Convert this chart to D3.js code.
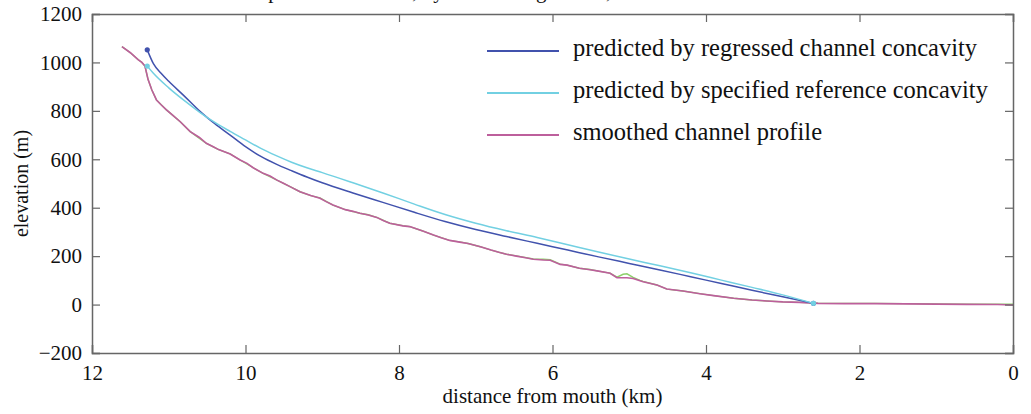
<!DOCTYPE html>
<html>
<head>
<meta charset="utf-8">
<script src="https://cdn.jsdelivr.net/npm/d3@7"></script>
<style>
  html, body { margin: 0; padding: 0; background: #fff; }
  svg { display: block; font-family: "Liberation Serif", "Times New Roman", serif; }
</style>
</head>
<body>
<svg id="chart" width="1031" height="414"></svg>
<script>
// Distance from mouth (km) and elevation (m) along the smoothed channel
const smoothDist = [11.61, 11.50, 11.40, 11.35, 11.31, 11.27, 11.22, 11.16, 11.10, 11.03, 10.95, 10.85, 10.72, 10.60, 10.51, 10.42, 10.35, 10.20, 10.07, 9.98, 9.90, 9.77, 9.68, 9.59, 9.50, 9.42, 9.29, 9.15, 9.03, 8.95, 8.86, 8.70, 8.60, 8.51, 8.40, 8.29, 8.20, 8.12, 7.95, 7.86, 7.70, 7.55, 7.45, 7.34, 7.21, 7.10, 6.94, 6.80, 6.70, 6.60, 6.47, 6.35, 6.25, 6.12, 6.03, 5.90, 5.81, 5.65, 5.51, 5.40, 5.25, 5.16, 5.03, 4.95, 4.82, 4.64, 4.51, 4.30, 4.08, 3.90, 3.64, 3.40, 3.21, 3.00, 2.78, 2.54, 2.20, 1.80, 1.40, 1.00, 0.60, 0.20, 0.00];
const smoothElev = [1065, 1040, 1012, 1000, 985, 930, 886, 845, 825, 804, 782, 755, 714, 690, 666, 652, 640, 622, 597, 583, 565, 542, 531, 514, 500, 487, 466, 450, 439, 425, 411, 392, 385, 377, 370, 360, 346, 336, 325, 322, 305, 287, 276, 265, 258, 252, 239, 225, 216, 208, 200, 193, 187, 184, 183, 166, 163, 150, 144, 138, 129, 111, 111, 108, 94, 81, 64, 56, 45, 37, 26, 19, 15, 11, 9, 5, 4, 4, 3, 2, 1, 0, -2];

// Unsmoothed channel profile
const rawDist = [11.61, 11.50, 11.40, 11.35, 11.31, 11.27, 11.22, 11.16, 11.03, 10.85, 10.72, 10.51, 10.35, 10.20, 10.07, 9.90, 9.77, 9.59, 9.42, 9.29, 9.15, 9.03, 8.86, 8.70, 8.51, 8.40, 8.29, 8.12, 7.95, 7.86, 7.70, 7.55, 7.34, 7.21, 7.10, 6.94, 6.80, 6.60, 6.47, 6.25, 6.12, 6.03, 5.90, 5.81, 5.65, 5.51, 5.40, 5.25, 5.16, 5.08, 5.03, 4.95, 4.86, 4.82, 4.64, 4.51, 4.30, 4.08, 3.90, 3.64, 3.40, 3.21, 3.00, 2.78, 2.54, 2.20, 1.80, 1.40, 1.00, 0.60, 0.20, 0.00];
const rawElev = [1065, 1040, 1012, 1000, 985, 930, 886, 845, 804, 755, 714, 666, 640, 622, 597, 565, 542, 514, 487, 466, 450, 441, 411, 392, 377, 371, 360, 336, 326, 322, 305, 287, 265, 259, 252, 239, 225, 208, 201, 188, 187, 185, 167, 163, 150, 145, 138, 130, 113, 125, 127, 112, 100, 96, 81, 64, 56, 45, 37, 26, 19, 15, 11, 9, 6, 5, 5, 4, 3, 2, 2, 2];

// Profile predicted with the regressed concavity
const regDist = [11.28, 11.20, 11.10, 11.00, 10.80, 10.60, 10.40, 10.20, 10.00, 9.80, 9.60, 9.40, 9.20, 9.00, 8.60, 8.20, 7.80, 7.40, 7.00, 6.60, 6.20, 5.80, 5.40, 5.00, 4.60, 4.20, 3.80, 3.40, 3.00, 2.60];
const regElev = [1052, 995, 955, 922, 862, 800, 747, 700, 652, 612, 580, 553, 527, 503, 461, 421, 381, 343, 310, 281, 253, 225, 197, 170, 143, 115, 87, 59, 32, 5];

// Profile predicted with the specified reference concavity
const refDist = [11.28, 11.20, 11.00, 10.80, 10.60, 10.40, 10.20, 10.00, 9.80, 9.60, 9.40, 9.20, 9.00, 8.60, 8.20, 7.80, 7.40, 7.00, 6.60, 6.20, 5.80, 5.40, 5.00, 4.60, 4.20, 3.80, 3.40, 3.00, 2.60];
const refElev = [985, 955, 895, 843, 795, 752, 715, 680, 645, 615, 588, 565, 545, 503, 460, 415, 372, 336, 305, 277, 247, 217, 188, 160, 131, 101, 71, 40, 5];

const xTicks = [12, 10, 8, 6, 4, 2, 0];
const yTicks = [-200, 0, 200, 400, 600, 800, 1000, 1200];

const legendLabels = [
  "predicted by regressed channel concavity",
  "predicted by specified reference concavity",
  "smoothed channel profile"
];
const colors = { reg: "#4152ad", ref: "#72d0e2", smooth: "#bd5f9c", raw: "#8ccf6a" };

const svg = d3.select("#chart");
const frame = { left: 92, right: 1013, top: 14, bottom: 353 };

const x = d3.scaleLinear().domain([12, 0]).range([frame.left, frame.right]);
const y = d3.scaleLinear().domain([-200, 1200]).range([frame.bottom, frame.top]);

const zip = (xs, ys) => xs.map((d, i) => [d, ys[i]]);
const line = d3.line().x(d => x(d[0])).y(d => y(d[1]));
const smoothLine = d3.line().x(d => x(d[0])).y(d => y(d[1])).curve(d3.curveMonotoneX);

// Title sits above the frame and runs past the top edge of the page
svg.append("text")
  .attr("x", 193).attr("y", -2)
  .attr("font-size", 21)
  .attr("fill", "#111")
  .text("Channel profile of basin 1, by channel regression, m/n = 0.45");

const plot = svg.append("g");

plot.append("path").datum(zip(rawDist, rawElev))
  .attr("d", line).attr("fill", "none")
  .attr("stroke", colors.raw).attr("stroke-width", 1.4);
plot.append("path").datum(zip(smoothDist, smoothElev))
  .attr("d", line).attr("fill", "none")
  .attr("stroke", colors.smooth).attr("stroke-width", 1.6);
plot.append("path").datum(zip(regDist, regElev))
  .attr("d", smoothLine)
  .attr("fill", "none").attr("stroke", colors.reg).attr("stroke-width", 1.5);
plot.append("path").datum(zip(refDist, refElev))
  .attr("d", smoothLine)
  .attr("fill", "none").attr("stroke", colors.ref).attr("stroke-width", 1.5);

// End points of the predicted profiles
const regEnds = [0, regDist.length - 1];
const refEnds = [0, refDist.length - 1];
plot.selectAll(".regDot").data(regEnds).join("circle")
  .attr("class", "regDot")
  .attr("cx", i => x(regDist[i])).attr("cy", i => y(regElev[i]))
  .attr("r", 2.6).attr("fill", colors.reg);
plot.selectAll(".refDot").data(refEnds).join("circle")
  .attr("class", "refDot")
  .attr("cx", i => x(refDist[i])).attr("cy", i => y(refElev[i]))
  .attr("r", 2.6).attr("fill", colors.ref);

// Frame with inward ticks on all four sides
const axisColor = "#666";
const tickLen = 8;
const bottomAxis = d3.axisBottom(x).tickValues(xTicks).tickSize(-tickLen).tickPadding(12).tickFormat(d3.format("d"));
const topAxis = d3.axisTop(x).tickValues(xTicks).tickSize(-tickLen).tickFormat("");
const leftAxis = d3.axisLeft(y).tickValues(yTicks).tickSize(-tickLen).tickPadding(10)
  .tickFormat(d => d < 0 ? "\u2212" + Math.abs(d) : String(d));
const rightAxis = d3.axisRight(y).tickValues(yTicks).tickSize(-tickLen).tickFormat("");

function styleAxis(g) {
  g.select(".domain").attr("stroke", axisColor).attr("stroke-width", 1.5);
  g.selectAll(".tick line").attr("stroke", axisColor).attr("stroke-width", 1.2);
  g.selectAll(".tick text").attr("fill", "#111").attr("font-size", 21)
    .attr("font-family", "Liberation Serif, Times New Roman, serif");
}

svg.append("g").attr("transform", `translate(0,${frame.bottom})`).call(bottomAxis).call(styleAxis);
svg.append("g").attr("transform", `translate(0,${frame.top})`).call(topAxis).call(styleAxis);
svg.append("g").attr("transform", `translate(${frame.left},0)`).call(leftAxis).call(styleAxis);
svg.append("g").attr("transform", `translate(${frame.right},0)`).call(rightAxis).call(styleAxis);

// Axis titles
svg.append("text")
  .attr("x", (frame.left + frame.right) / 2).attr("y", 403)
  .attr("text-anchor", "middle").attr("font-size", 21).attr("fill", "#111")
  .text("distance from mouth (km)");
svg.append("text")
  .attr("transform", `translate(28,${(frame.top + frame.bottom) / 2}) rotate(-90)`)
  .attr("text-anchor", "middle").attr("font-size", 20).attr("fill", "#111")
  .text("elevation (m)");

// Legend
const legendColors = [colors.reg, colors.ref, colors.smooth];
const legend = svg.append("g").attr("transform", "translate(487,51)");
const items = legend.selectAll("g").data(legendLabels).join("g")
  .attr("transform", (d, i) => `translate(0,${i * 42})`);
items.append("line")
  .attr("x1", 0).attr("x2", 72).attr("y1", 0).attr("y2", 0)
  .attr("stroke", (d, i) => legendColors[i]).attr("stroke-width", 2);
items.append("text")
  .attr("x", 86).attr("y", 5)
  .attr("font-size", 24.5).attr("fill", "#111")
  .text(d => d);
</script>
</body>
</html>
